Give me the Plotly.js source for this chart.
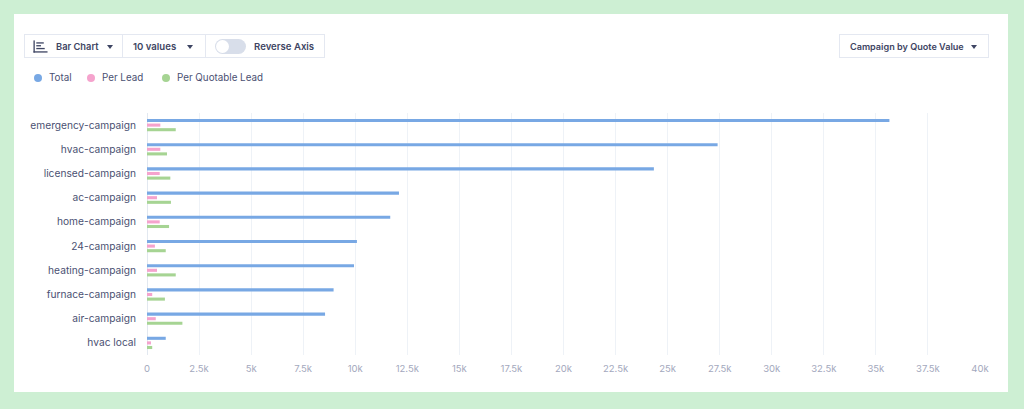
<!DOCTYPE html>
<html>
<head>
<meta charset="utf-8">
<script src="https://cdn.plot.ly/plotly-3.0.1.min.js"></script>
<style>
  html, body { margin:0; padding:0; width:1024px; height:409px; overflow:hidden; background:#cdefd3; font-family:Inter, "Open Sans", sans-serif; }
  #card { position:absolute; left:14px; top:14px; width:994px; height:378px; background:#ffffff; }
  #chart { position:absolute; left:0; top:0; width:1024px; height:409px; }
  .btn { position:absolute; top:34px; height:24px; border:1px solid #e4e8f1; box-sizing:border-box; background:#fff; white-space:nowrap;
         font-size:9.6px; font-weight:600; color:#3e4563; display:flex; align-items:center; }
  .caret { display:inline-block; width:0; height:0; border-left:3.5px solid transparent; border-right:3.5px solid transparent; border-top:4px solid #3e4563; margin-left:10px; margin-top:2px; }
  .leg { position:absolute; top:72px; font-size:9.8px; color:#4a5072; display:flex; align-items:center; white-space:nowrap; }
  .dot { width:8px; height:8px; border-radius:50%; margin-right:7px; }
</style>
</head>
<body>
<div id="card"></div>
<div id="chart"></div>

<div class="btn" style="left:24px;width:99px;padding-left:8px;">
  <svg width="15" height="13" viewBox="0 0 16 13" style="margin-right:8px">
    <rect x="0.5" y="0" width="1.4" height="13" fill="#3e4563"/>
    <rect x="0.5" y="11.6" width="15" height="1.4" fill="#3e4563"/>
    <rect x="3.5" y="2" width="8" height="1.4" fill="#3e4563"/>
    <rect x="3.5" y="5" width="5" height="1.4" fill="#3e4563"/>
    <rect x="3.5" y="8" width="9" height="1.4" fill="#3e4563"/>
  </svg>
  <span style="font-size:9.3px">Bar Chart</span><span class="caret" style="margin-left:8px"></span>
</div>
<div class="btn" style="left:122px;width:84px;padding-left:10px;">10 values<span class="caret" style="margin-left:11px"></span></div>
<div class="btn" style="left:205px;width:120px;padding-left:9px;">
  <span style="display:inline-block;width:31px;height:15px;border-radius:8px;background:#d8deea;position:relative;margin-right:8px;">
    <span style="position:absolute;left:1px;top:1px;width:13px;height:13px;border-radius:50%;background:#fff;"></span>
  </span>
  Reverse Axis
</div>
<div class="btn" style="left:839px;width:150px;padding-left:10px;"><span style="font-size:9.1px">Campaign by Quote Value</span><span class="caret" style="margin-left:7px"></span></div>

<div class="leg" style="left:34px;"><span class="dot" style="background:#78a8e4"></span>Total</div>
<div class="leg" style="left:87px;"><span class="dot" style="background:#f5a3cd"></span>Per Lead</div>
<div class="leg" style="left:162px;"><span class="dot" style="background:#a6d493"></span>Per Quotable Lead</div>

<script>
const campaigns = ["emergency-campaign","hvac-campaign","licensed-campaign","ac-campaign","home-campaign","24-campaign","heating-campaign","furnace-campaign","air-campaign","hvac local"];
const totalValues = [35650, 27400, 24340, 12100, 11680, 10080, 9940, 8960, 8550, 900];
const perLeadValues = [640, 640, 610, 480, 610, 380, 480, 250, 420, 190];
const perQuotableLeadValues = [1380, 960, 1120, 1150, 1060, 900, 1380, 860, 1700, 250];
const tickValues = [0,2500,5000,7500,10000,12500,15000,17500,20000,22500,25000,27500,30000,32500,35000,37500,40000];
const tickLabels = ["0","2.5k","5k","7.5k","10k","12.5k","15k","17.5k","20k","22.5k","25k","27.5k","30k","32.5k","35k","37.5k","40k"];

const mk = (name, vals, color) => ({
  type:"bar", orientation:"h", name:name, y:campaigns, x:vals,
  marker:{color:color, line:{width:0}}, hoverinfo:"x+name"
});
const data = [
  mk("Total", totalValues, "#78a8e4"),
  mk("Per Lead", perLeadValues, "#f5a3cd"),
  mk("Per Quotable Lead", perQuotableLeadValues, "#a6d493")
];
const layout = {
  width:1024, height:409,
  margin:{l:147, r:44, t:113, b:54, pad:0},
  paper_bgcolor:"rgba(0,0,0,0)", plot_bgcolor:"rgba(0,0,0,0)",
  showlegend:false,
  barmode:"group", bargap:0.43, bargroupgap:0.33,
  font:{family:"Inter, sans-serif"},
  xaxis:{range:[0,40000], tickvals:tickValues, ticktext:tickLabels, showgrid:true, gridcolor:"#eef2f7", gridwidth:1,
         zeroline:true, zerolinecolor:"#e2e8f0", zerolinewidth:1, showline:false, ticks:"", ticklabelstandoff:6,
         tickfont:{size:9.5, color:"#a3a8bd"}, fixedrange:true},
  yaxis:{autorange:"reversed", showgrid:false, zeroline:false, showline:false, ticks:"", ticklabelstandoff:10,
         tickfont:{size:10.2, color:"#4a5072"}, fixedrange:true}
};
Plotly.newPlot("chart", data, layout, {displayModeBar:false, staticPlot:true});
</script>
</body>
</html>
